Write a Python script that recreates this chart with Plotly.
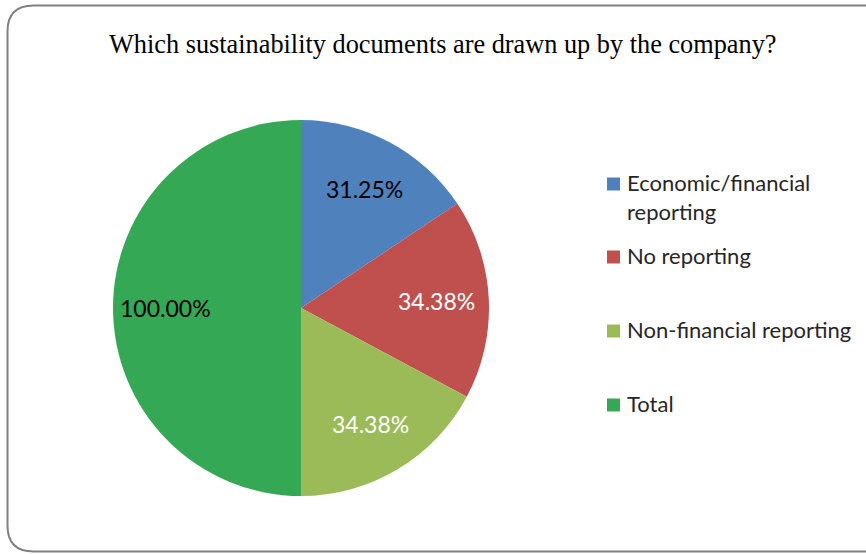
import math
import plotly.graph_objects as go

# Survey answers and their shares (in %)
categories = ["Economic/financial reporting", "No reporting", "Non-financial reporting", "Total"]
legend_labels = ["Economic/financial<br>reporting", "No reporting", "Non-financial reporting", "Total"]
values = [31.25, 34.38, 34.38, 100.00]
colors = ["#4F81BD", "#C0504D", "#9BBB59", "#35A855"]
text_colors = ["black", "white", "white", "black"]

W, H = 866, 554

# Pie placement in pixels
cx, cy, R = 301, 308, 188

fig = go.Figure(
    go.Pie(
        labels=categories,
        values=values,
        sort=False,
        direction="clockwise",
        rotation=0,
        marker=dict(colors=colors, line=dict(width=0)),
        textinfo="none",
        hoverinfo="label+value",
        domain=dict(x=[(cx - R) / W, (cx + R) / W], y=[1 - (cy + R) / H, 1 - (cy - R) / H]),
        showlegend=False,
    )
)

shapes = []
annotations = []

# Data labels placed at each slice's mid-angle
total = sum(values)
acc = 0.0
for v, tc in zip(values, text_colors):
    mid = (acc + v / 2) / total * 2 * math.pi
    acc += v
    px = cx + 0.72 * R * math.sin(mid)
    py = cy - 0.72 * R * math.cos(mid)
    annotations.append(dict(
        text=f"{v:.2f}%", x=px / W, y=1 - py / H, xref="paper", yref="paper",
        xanchor="center", yanchor="middle", showarrow=False,
        font=dict(family="Lato, Carlito, sans-serif", size=23, color=tc),
    ))

# Rounded chart frame
r = 26
x0, y0, x1, y1 = 7.5 / W, 1 - 5.5 / H, 892 / W, 1 - 551.5 / H
rx, ry = r / W, r / H
path = (
    f"M {x0 + rx} {y0} L {x1 - rx} {y0} Q {x1} {y0} {x1} {y0 - ry} "
    f"L {x1} {y1 + ry} Q {x1} {y1} {x1 - rx} {y1} "
    f"L {x0 + rx} {y1} Q {x0} {y1} {x0} {y1 + ry} "
    f"L {x0} {y0 - ry} Q {x0} {y0} {x0 + rx} {y0} Z"
)
shapes.append(dict(type="path", path=path, xref="paper", yref="paper",
                   line=dict(color="#808080", width=2), fillcolor="rgba(0,0,0,0)", layer="below"))

# Title
annotations.append(dict(
    text="Which sustainability documents are drawn up by the company?",
    x=443 / W, y=1 - 44.5 / H, xref="paper", yref="paper",
    xanchor="center", yanchor="middle", showarrow=False,
    font=dict(family="Liberation Serif, Times New Roman, serif", size=26.3, color="black"),
))

# Legend
legend_y = [184, 257, 331, 405]
for lab, col, yy in zip(legend_labels, colors, legend_y):
    shapes.append(dict(type="rect", xref="paper", yref="paper",
                       x0=607 / W, x1=620 / W, y0=1 - (yy + 6.5) / H, y1=1 - (yy - 6.5) / H,
                       fillcolor=col, line=dict(width=0)))
    annotations.append(dict(
        text=lab, x=625 / W, y=1 - (yy - 17) / H, xref="paper", yref="paper",
        xanchor="left", yanchor="top", align="left", showarrow=False,
        font=dict(family="Lato, Carlito, sans-serif", size=22, color="#262626"),
    ))

fig.update_layout(
    width=W, height=H,
    margin=dict(l=0, r=0, t=0, b=0),
    paper_bgcolor="white",
    plot_bgcolor="white",
    shapes=shapes,
    annotations=annotations,
)

fig.write_html("out.html")
